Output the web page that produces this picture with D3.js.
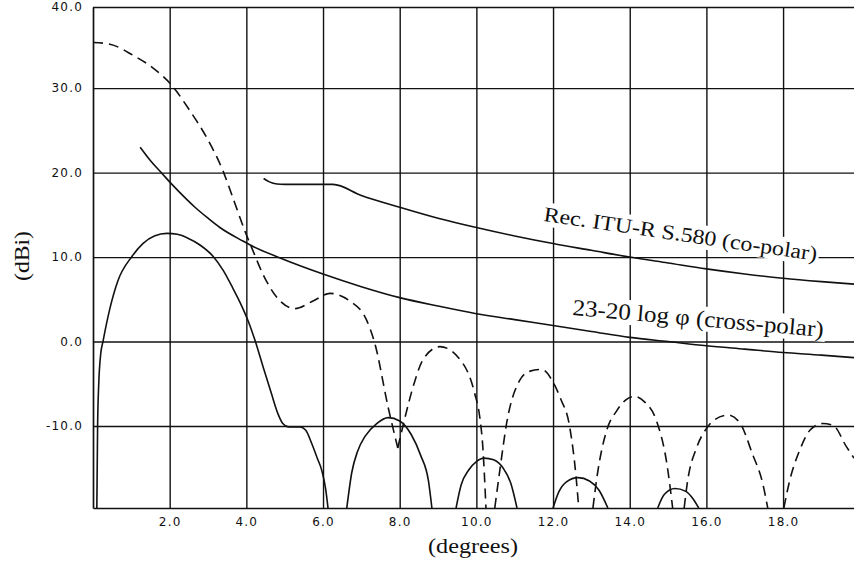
<!DOCTYPE html>
<html>
<head>
<meta charset="utf-8">
<script src="https://cdn.jsdelivr.net/npm/d3@7"></script>
<style>
  body { margin: 0; background: #fff; }
  .axis text { font-family: "DejaVu Sans", sans-serif; font-size: 12px; letter-spacing: 1.2px; fill: #111; }
  .axis line, .axis path { stroke: #111; }
  .curve { fill: none; stroke: #111; stroke-width: 1.6px; }
  .dashed { stroke-dasharray: 10, 6; }
  .serif { font-family: "Liberation Serif", "Times New Roman", serif; fill: #111; }
</style>
</head>
<body>
<div id="chart"></div>
<script>

// grid / tick values
var degreeTicks = [2, 4, 6, 8, 10, 12, 14, 16, 18];
var dbiTicks = [-10, 0, 10, 20, 30, 39.6];   // top edge is labelled 40.0

// measured co-polar pattern (dashed), one array per lobe, [degrees, dBi]
var coMainLobe = [[0, 35.4], [0.44, 35.2], [1.04, 33.9], [1.56, 32.4], [2.06, 30.3], [2.53, 27.3],
  [2.97, 24.1], [3.39, 20.2], [3.65, 17.0], [3.96, 13.1], [4.15, 11.0], [4.43, 8.0], [4.82, 5.1],
  [5.27, 3.9], [5.74, 4.8], [6.18, 5.7], [6.7, 4.8], [7.14, 2.5], [7.35, -0.2], [7.7, -7.8], [7.95, -12.6]];
var coLobe2 = [[7.95, -12.6], [8.1, -9.7], [8.4, -4.6], [8.6, -2.2], [9.05, -0.6], [9.65, -2.6],
  [9.96, -6.2], [10.09, -9.0], [10.17, -12.6], [10.25, -19.7]];
var coLobe3 = [[10.48, -19.7], [10.61, -15.3], [10.8, -9.4], [11.13, -4.6], [11.4, -3.5], [11.7, -3.3],
  [12.0, -4.8], [12.2, -6.8], [12.43, -10.0], [12.6, -16.0], [12.67, -19.7]];
var coLobe4 = [[13.04, -19.7], [13.17, -15.3], [13.4, -10.5], [13.66, -8.2], [13.9, -6.9], [14.13, -6.5],
  [14.4, -7.2], [14.7, -9.4], [14.97, -14.5], [15.12, -19.7]];
var coLobe5 = [[15.42, -19.7], [15.5, -16.8], [15.75, -12.5], [16.0, -10.3], [16.17, -9.4], [16.56, -8.7],
  [16.87, -9.6], [17.2, -13.3], [17.47, -16.8], [17.6, -19.7]];
var coLobe6 = [[18.02, -19.7], [18.17, -16.5], [18.43, -12.9], [18.7, -10.5], [19.03, -9.7], [19.3, -9.9],
  [19.66, -12.5], [19.85, -13.8]];

// measured cross-polar pattern (solid)
var xMainLobe = [[0.1, -19.7], [0.12, -10], [0.15, -5], [0.2, -1.5], [0.26, 0], [0.44, 3.9], [0.65, 7.2],
  [1.02, 10.1], [1.3, 11.6], [1.6, 12.5], [1.93, 12.8], [2.2, 12.7], [2.45, 12.3], [2.8, 11.4],
  [3.13, 10.1], [3.4, 8.4], [3.65, 6.3], [3.85, 4.5], [4.05, 2.4], [4.25, -0.2], [4.45, -3.2],
  [4.65, -6.1], [4.82, -8.5], [4.95, -9.7], [5.1, -10.1], [5.4, -10.1], [5.55, -10.5], [5.7, -12.0],
  [5.85, -13.8], [5.97, -15.3], [6.07, -17.5], [6.13, -19.7]];
var xLobe2 = [[6.62, -19.7], [6.75, -15.5], [6.9, -13.0], [7.1, -11.2], [7.4, -9.7], [7.7, -9.0], [8.0, -9.4],
  [8.3, -11.0], [8.55, -13.5], [8.75, -16.5], [8.84, -19.7]];
var xLobe3 = [[9.47, -19.7], [9.6, -17.0], [9.8, -15.2], [10.0, -14.2], [10.2, -13.8], [10.45, -14.0],
  [10.7, -15.0], [10.9, -16.8], [11.06, -19.7]];
var xLobe4 = [[12.0, -19.7], [12.15, -17.8], [12.35, -16.6], [12.65, -16.1], [12.95, -16.5], [13.2, -17.6], [13.43, -19.7]];
var xLobe5 = [[14.73, -19.7], [14.9, -18.1], [15.18, -17.4], [15.45, -17.7], [15.65, -18.6], [15.8, -19.7]];

// reference envelopes
var coPolarRef = [[4.45, 19.3], [4.6, 18.9], [4.8, 18.65], [5.0, 18.6], [6.26, 18.6], [7, 17.3], [8, 15.9],
  [9, 14.6], [10, 13.5], [11, 12.5], [12, 11.6], [13, 10.8], [14, 10.0], [15, 9.3], [16, 8.6],
  [17, 8.0], [18, 7.5], [19, 7.1], [19.85, 6.8]];
var crossPolarRef = [[1.23, 23.0], [1.5, 21.4], [1.8, 19.9], [2.06, 18.6], [2.45, 16.8], [2.66, 15.9],
  [3.0, 14.6], [3.31, 13.5], [3.91, 11.9], [4.2, 11.2], [4.88, 9.9], [6, 8.0], [7, 6.5], [8, 5.2],
  [9, 4.2], [10, 3.3], [11, 2.6], [12, 1.9], [13, 1.2], [14, 0.5], [15, 0.0], [16, -0.5], [17, -0.9],
  [18, -1.3], [19, -1.6], [19.85, -1.9]];

var coLabel = "Rec. ITU-R S.580 (co-polar)";
var crossLabel = "23-20 log \u03c6 (cross-polar)";

var width = 854, height = 567;
var plotLeft = 93, plotRight = 854, plotTop = 7, plotBottom = 508;

var x = d3.scaleLinear().domain([0, 19.85]).range([plotLeft, plotRight]);
var y = d3.scaleLinear().domain([-19.7, 39.6]).range([plotBottom, plotTop]);

var svg = d3.select("#chart").append("svg")
    .attr("width", width)
    .attr("height", height);

svg.append("clipPath").attr("id", "plot")
  .append("rect")
    .attr("x", plotLeft).attr("y", plotTop)
    .attr("width", plotRight - plotLeft).attr("height", plotBottom - plotTop);

// grid + labels come from the axes
svg.append("g")
    .attr("class", "axis")
    .attr("transform", "translate(0," + plotBottom + ")")
    .call(d3.axisBottom(x)
      .tickValues(degreeTicks)
      .tickSizeInner(-(plotBottom - plotTop))
      .tickSizeOuter(0)
      .tickPadding(9)
      .tickFormat(function(d) { return d.toFixed(1); }));

svg.append("g")
    .attr("class", "axis")
    .attr("transform", "translate(" + plotLeft + ",0)")
    .call(d3.axisLeft(y)
      .tickValues(dbiTicks)
      .tickSizeInner(-(plotRight - plotLeft))
      .tickSizeOuter(0)
      .tickPadding(10)
      .tickFormat(function(d) { return Math.round(d).toFixed(1); }));

svg.selectAll(".axis").attr("font-family", null).attr("font-size", null);
svg.selectAll(".axis .tick line").attr("stroke-width", 1.4);
svg.selectAll(".axis .domain").attr("stroke-width", 1.7);

var line = d3.line()
    .x(function(d) { return x(d[0]); })
    .y(function(d) { return y(d[1]); })
    .curve(d3.curveMonotoneX);

var curves = svg.append("g").attr("clip-path", "url(#plot)");

curves.selectAll("path.co")
    .data([coMainLobe, coLobe2, coLobe3, coLobe4, coLobe5, coLobe6])
  .enter().append("path")
    .attr("class", "curve dashed co")
    .attr("d", line);

curves.selectAll("path.xp")
    .data([xMainLobe, xLobe2, xLobe3, xLobe4, xLobe5])
  .enter().append("path")
    .attr("class", "curve xp")
    .attr("d", line);

curves.selectAll("path.ref")
    .data([coPolarRef, crossPolarRef])
  .enter().append("path")
    .attr("class", "curve ref")
    .attr("d", line);

// rotated labels sitting on a white box
var addLabel = function(txt, px, py, angle, size, len) {
  var g = svg.append("g")
      .attr("transform", "translate(" + px + "," + py + ") rotate(" + angle + ")");
  var t = g.append("text")
      .attr("class", "serif")
      .attr("font-size", size)
      .attr("textLength", len)
      .attr("lengthAdjust", "spacingAndGlyphs")
      .text(txt);
  var b = t.node().getBBox();
  g.insert("rect", "text")
      .attr("x", b.x - 2).attr("y", b.y)
      .attr("width", b.width + 4).attr("height", b.height)
      .attr("fill", "#fff");
};

addLabel(coLabel, 543, 221, 8.3, 21, 276);
addLabel(crossLabel, 572, 315, 5, 23, 252);

// axis titles
svg.append("text")
    .attr("class", "serif")
    .attr("x", 473).attr("y", 553)
    .attr("text-anchor", "middle")
    .attr("font-size", 22)
    .attr("textLength", 90)
    .attr("lengthAdjust", "spacingAndGlyphs")
    .text("(degrees)");

svg.append("text")
    .attr("class", "serif")
    .attr("transform", "translate(29,256) rotate(-90)")
    .attr("text-anchor", "middle")
    .attr("font-size", 22)
    .attr("textLength", 50)
    .attr("lengthAdjust", "spacingAndGlyphs")
    .text("(dBi)");

</script>
</body>
</html>
